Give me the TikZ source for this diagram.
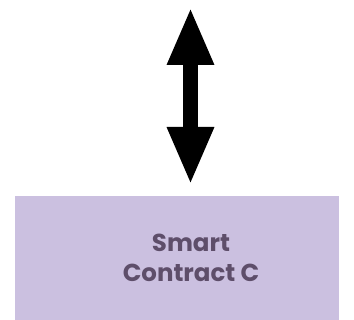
\documentclass[tikz,border=0pt]{standalone}
\usepackage{fontspec}
\setmainfont{Poppins}
\usepackage{tikz}
\usetikzlibrary{arrows.meta}
\definecolor{boxfill}{HTML}{CBC0E0}
\definecolor{boxtext}{HTML}{5E4E6A}
\tikzstyle{contracttext} = [text=boxtext, align=center,
    font=\fontsize{24.5}{30}\selectfont\bfseries]
\tikzstyle{bigarrow} = [line width=15pt,
    {Triangle[length=58pt,width=43pt]}-{Triangle[length=58pt,width=43pt]}]

\begin{document}
\begin{tikzpicture}[x=1pt,y=-1pt]
                \useasboundingbox (0,0) rectangle (354,320);
                \fill [boxfill] (15,196) rectangle (339,320);
                \node [contracttext] (contractC) at (191,258) {Smart\\Contract C};
                \coordinate (top) at (190.5,7);
                \coordinate (bottom) at (190.5,185);
                \draw [bigarrow] (top) -- (bottom);
            \end{tikzpicture}
\end{document}
